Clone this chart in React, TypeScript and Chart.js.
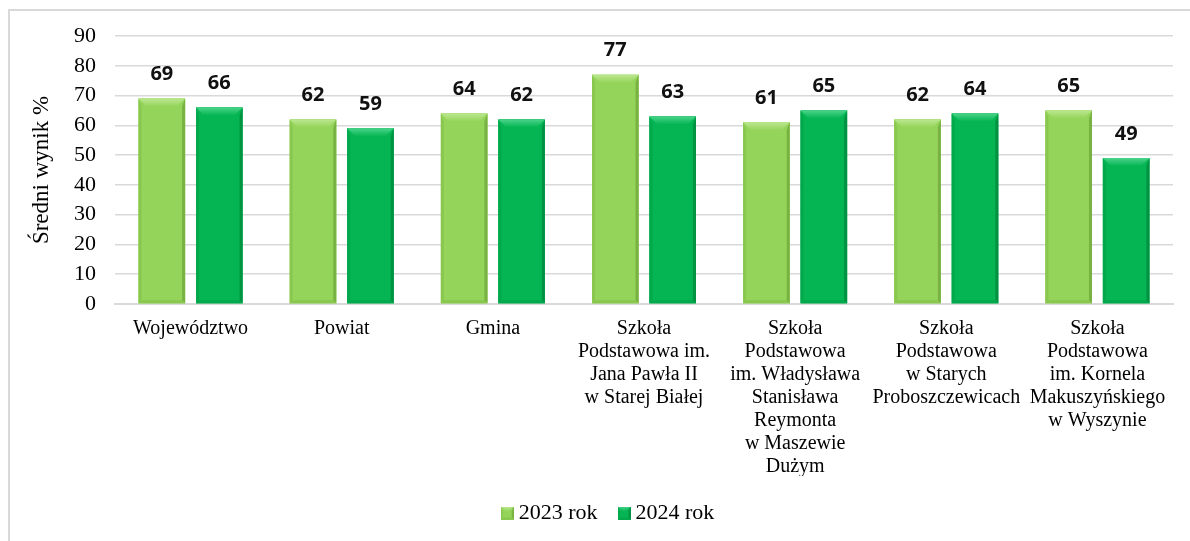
import React, { useEffect, useRef } from "react";
import { Chart, registerables } from "chart.js";

Chart.register(...registerables);

const categories: string[][] = [
  ["Województwo"],
  ["Powiat"],
  ["Gmina"],
  ["Szkoła", "Podstawowa im.", "Jana Pawła II", "w Starej Białej"],
  ["Szkoła", "Podstawowa", "im. Władysława", "Stanisława", "Reymonta", "w Maszewie", "Dużym"],
  ["Szkoła", "Podstawowa", "w Starych", "Proboszczewicach"],
  ["Szkoła", "Podstawowa", "im. Kornela", "Makuszyńskiego", "w Wyszynie"],
];
const values2023 = [69, 62, 64, 77, 61, 62, 65];
const values2024 = [66, 59, 62, 63, 65, 64, 49];
const seriesNames = ["2023 rok", "2024 rok"];
const yAxisTitle = "Średni wynik %";
const yMin = 0;
const yMax = 90;
const yStep = 10;

const palette = [
  { main: "#95D45A", light: "#BCE891", side: "#89C74E", dark: "#78B243" },
  { main: "#05B553", light: "#4AD48A", side: "#04A84C", dark: "#029342" },
];

const SERIF = "'Liberation Serif', 'Times New Roman', serif";
const SANS = "'Open Sans', 'Noto Sans', sans-serif";

function drawBevel(ctx: CanvasRenderingContext2D, left: number, top: number, right: number, bottom: number, c: any, b: number, s: number) {
  const w = right - left;
  const h = bottom - top;
  if (w <= 0 || h <= 0) return;
  const bt = Math.min(b, h / 2);
  ctx.save();
  ctx.fillStyle = c.main;
  ctx.fillRect(left, top, w, h);
  const g = ctx.createLinearGradient(0, top, 0, top + bt);
  g.addColorStop(0, c.light);
  g.addColorStop(1, c.main);
  ctx.fillStyle = g;
  ctx.beginPath();
  ctx.moveTo(left, top);
  ctx.lineTo(right, top);
  ctx.lineTo(right - bt, top + bt);
  ctx.lineTo(left + bt, top + bt);
  ctx.closePath();
  ctx.fill();
  ctx.fillStyle = c.side;
  ctx.beginPath();
  ctx.moveTo(left, top);
  ctx.lineTo(left + s, top + bt);
  ctx.lineTo(left + s, bottom - s);
  ctx.lineTo(left, bottom);
  ctx.closePath();
  ctx.fill();
  ctx.fillStyle = c.dark;
  ctx.beginPath();
  ctx.moveTo(right, top);
  ctx.lineTo(right - s, top + bt);
  ctx.lineTo(right - s, bottom - s);
  ctx.lineTo(right, bottom);
  ctx.closePath();
  ctx.fill();
  ctx.fillStyle = c.side;
  ctx.beginPath();
  ctx.moveTo(left, bottom);
  ctx.lineTo(left + s, bottom - s);
  ctx.lineTo(right - s, bottom - s);
  ctx.lineTo(right, bottom);
  ctx.closePath();
  ctx.fill();
  ctx.restore();
}

function legendImage(c: any): HTMLCanvasElement {
  const cv = document.createElement("canvas");
  cv.width = 13;
  cv.height = 13;
  const ctx = cv.getContext("2d")!;
  drawBevel(ctx, 0, 0, 13, 13, c, 5, 2);
  return cv;
}

const bevelPlugin = {
  id: "bevelBars",
  afterDatasetsDraw(chart: any) {
    const ctx = chart.ctx;
    chart.data.datasets.forEach((ds: any, di: number) => {
      const meta = chart.getDatasetMeta(di);
      if (meta.hidden) return;
      meta.data.forEach((el: any, i: number) => {
        const { x, y, base, width } = el.getProps(["x", "y", "base", "width"], true);
        const left = x - width / 2;
        const right = x + width / 2;
        drawBevel(ctx, left, y, right, base, palette[di], 8, 3);
        ctx.save();
        ctx.font = `bold 20px ${SANS}`;
        ctx.fillStyle = "#111111";
        ctx.textAlign = "center";
        ctx.textBaseline = "middle";
        ctx.fillText(String(ds.data[i]), x, y - 24);
        ctx.restore();
      });
    });
  },
};

export default function App() {
  const canvasRef = useRef<HTMLCanvasElement | null>(null);

  useEffect(() => {
    if (!canvasRef.current) return;
    const imgs = palette.map((c) => legendImage(c));
    const chart = new Chart(canvasRef.current, {
      type: "bar",
      data: {
        labels: categories,
        datasets: [
          {
            label: seriesNames[0],
            data: values2023,
            backgroundColor: palette[0].main,
            borderWidth: 0,
            categoryPercentage: 0.76,
            barPercentage: 0.81,
          },
          {
            label: seriesNames[1],
            data: values2024,
            backgroundColor: palette[1].main,
            borderWidth: 0,
            categoryPercentage: 0.76,
            barPercentage: 0.81,
          },
        ],
      },
      options: {
        animation: false,
        responsive: true,
        maintainAspectRatio: false,
        layout: { padding: { top: 36, left: 48, right: 17, bottom: 7 } },
        plugins: {
          tooltip: { enabled: false },
          legend: {
            position: "bottom",
            labels: {
              usePointStyle: true,
              pointStyleWidth: 1,
              padding: 26,
              color: "#000000",
              font: { family: SERIF, size: 22 },
              generateLabels: (ch: any) =>
                ch.data.datasets.map((ds: any, i: number) => ({
                  text: ds.label,
                  pointStyle: imgs[i],
                  fillStyle: palette[i].main,
                  strokeStyle: palette[i].main,
                  lineWidth: 0,
                  hidden: false,
                  datasetIndex: i,
                  fontColor: "#000000",
                })),
            },
          },
        },
        scales: {
          x: {
            grid: { display: false, drawTicks: false },
            border: { display: true, color: "#D9D9D9", width: 2 },
            ticks: {
              color: "#000000",
              font: { family: SERIF, size: 20, lineHeight: 1.15 },
              padding: 13,
              maxRotation: 0,
              minRotation: 0,
              autoSkip: false,
            },
            afterFit: (scale: any) => {
              scale.height = 172;
            },
          },
          y: {
            min: yMin,
            max: yMax,
            ticks: {
              stepSize: yStep,
              color: "#000000",
              font: { family: SERIF, size: 22 },
              padding: 19,
            },
            grid: { color: "#D9D9D9", lineWidth: 1.5, drawTicks: false },
            border: { display: false },
            title: {
              display: true,
              text: yAxisTitle,
              color: "#000000",
              font: { family: SERIF, size: 23 },
              padding: { top: -20, bottom: 0 },
            },
            afterFit: (scale: any) => {
              scale.width = 67;
            },
          },
        },
      },
      plugins: [bevelPlugin],
    });
    return () => chart.destroy();
  }, []);

  return (
    <div style={{ position: "fixed", left: 0, top: 0, width: 1190, height: 541, background: "#ffffff", overflow: "hidden" }}>
      <div
        style={{
          position: "absolute",
          left: 8,
          top: 9,
          width: 1200,
          height: 560,
          borderLeft: "2px solid #D9D9D9",
          borderTop: "2px solid #D9D9D9",
          boxSizing: "border-box",
        }}
      />
      <div style={{ position: "absolute", left: 0, top: 0, width: 1190, height: 541 }}>
        <canvas ref={canvasRef} />
      </div>
    </div>
  );
}
